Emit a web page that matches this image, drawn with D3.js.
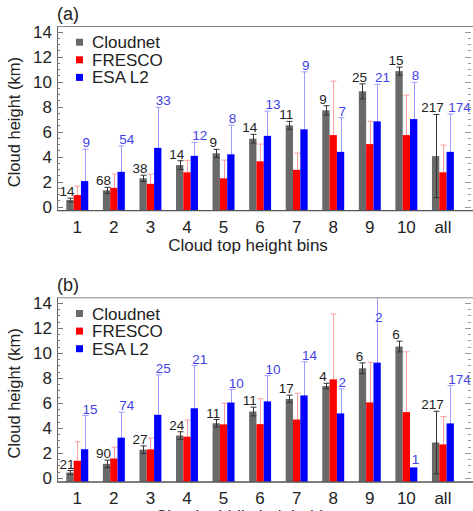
<!DOCTYPE html>
<html>
<head>
<meta charset="utf-8">
<script src="https://cdn.jsdelivr.net/npm/d3@7"></script>
<style>
  body { margin: 0; background: #fff; }
  svg { display: block; font-family: "Liberation Sans", Arial, sans-serif; }
</style>
</head>
<body>
<div id="chart"></div>
<script>
// categories (bins)
var categories = ["1", "2", "3", "4", "5", "6", "7", "8", "9", "10", "all"];
var seriesNames = ["Cloudnet", "FRESCO", "ESA L2"];
var yTicks = [0, 2, 4, 6, 8, 10, 12, 14];

// panel (a) cloud top height bins
var cloudnetA = [0.52, 1.30, 2.26, 3.32, 4.26, 5.43, 6.50, 7.70, 9.22, 10.84, 4.04];
var cloudnetErrA = [0.15, 0.24, 0.25, 0.35, 0.32, 0.35, 0.32, 0.37, 0.60, 0.32, 3.33];
var frescoA = [0.92, 1.50, 1.82, 2.74, 2.26, 3.62, 2.94, 5.72, 5.00, 5.72, 2.74];
var frescoErrA = [0.72, 1.10, 0.78, 0.96, 1.46, 1.38, 1.34, 4.32, 1.82, 3.20, 2.18];
var esaA = [2.04, 2.78, 4.70, 4.06, 4.18, 5.66, 6.18, 4.38, 6.82, 7.00, 4.38];
var esaErrA = [2.55, 2.08, 3.24, 1.07, 2.34, 1.98, 4.60, 2.74, 2.96, 2.94, 3.02];
var countCloudnetA = [14, 68, 38, 14, 9, 14, 11, 9, 25, 15, 217];
var countEsaA = [9, 54, 33, 12, 8, 13, 9, 7, 21, 8, 174];

// panel (b) cloud middle height bins
var cloudnetB = [0.43, 1.12, 2.26, 3.39, 4.37, 5.31, 6.32, 7.35, 8.77, 10.51, 2.83];
var cloudnetErrB = [0.16, 0.30, 0.30, 0.30, 0.30, 0.35, 0.30, 0.22, 0.43, 0.43, 2.50];
var frescoB = [1.37, 1.55, 2.28, 3.30, 4.28, 4.30, 4.67, 7.88, 6.04, 5.26, 2.68];
var frescoErrB = [1.52, 0.90, 0.90, 1.33, 1.70, 2.03, 2.10, 5.23, 3.20, 4.83, 2.22];
var esaB = [2.29, 3.22, 5.05, 5.57, 6.03, 6.12, 6.60, 5.16, 9.22, 0.84, 4.36];
var esaErrB = [2.70, 2.03, 3.20, 3.42, 1.04, 2.06, 2.69, 1.96, 6.00, 0, 3.03];
var countCloudnetB = [21, 90, 27, 24, 11, 11, 17, 4, 6, 6, 217];
var countEsaB = [15, 74, 25, 21, 10, 10, 14, 2, 2, 1, 174];

var w = 473;
var h = 511;
var colors = ["#696969", "#ff0000", "#0000ff"];
var errColors = ["#333333", "#ff9c9c", "#9c9cff"];
var blueText = "#4141e6";

var svg = d3.select("#chart")
  .append("svg")
  .attr("width", w)
  .attr("height", h);

svg.append("rect").attr("width", w).attr("height", h).attr("fill", "#fff");

// same x scale for both panels: bin index -> pixel
var x = d3.scaleLinear().domain([0.445, 11.85]).range([57, 474]);
var barW = x(0.2) - x(0);
var offsets = [-0.2, 0, 0.2];

function drawPanel(top, id, letter, xTitle, vals, errs, countGray, countBlue) {
  var bottom = top + 184.7;
  var y = d3.scaleLinear().domain([-0.33, 14.45]).range([bottom, top]);
  var g = svg.append("g");

  svg.append("clipPath").attr("id", id)
    .append("rect")
    .attr("x", x.range()[0]).attr("y", top)
    .attr("width", x.range()[1] - x.range()[0]).attr("height", bottom - top);

  var plot = g.append("g").attr("clip-path", "url(#" + id + ")");

  // red / blue error bars first (bars cover lower half)
  [1, 2].forEach(function(s) {
    var eg = plot.append("g").attr("stroke", errColors[s]).attr("stroke-width", 1);
    vals[s].forEach(function(v, i) {
      var e = errs[s][i];
      if (!e) return;
      var cx = Math.round(x(i + 1 + offsets[s])) + 0.5;
      eg.append("line").attr("x1", cx).attr("x2", cx).attr("y1", y(v - e)).attr("y2", y(v + e));
      eg.append("line").attr("x1", cx - 3).attr("x2", cx + 3).attr("y1", y(v + e)).attr("y2", y(v + e));
    });
  });

  // bars
  for (var s = 0; s < 3; s++) {
    plot.append("g").selectAll("rect")
      .data(vals[s])
      .enter()
      .append("rect")
      .attr("x", function(d, i) { return x(i + 1 + offsets[s]) - barW / 2; })
      .attr("y", function(d) { return y(d); })
      .attr("width", barW)
      .attr("height", function(d) { return y.range()[0] - y(d); })
      .attr("fill", colors[s]);
  }

  // cloudnet error bars drawn over the grey bars
  var eg0 = plot.append("g").attr("stroke", errColors[0]).attr("stroke-width", 1);
  vals[0].forEach(function(v, i) {
    var e = errs[0][i];
    var cx = Math.round(x(i + 1 + offsets[0])) + 0.5;
    eg0.append("line").attr("x1", cx).attr("x2", cx).attr("y1", y(v - e)).attr("y2", y(v + e));
    eg0.append("line").attr("x1", cx - 3).attr("x2", cx + 3).attr("y1", y(v + e)).attr("y2", y(v + e));
    eg0.append("line").attr("x1", cx - 3).attr("x2", cx + 3).attr("y1", y(v - e)).attr("y2", y(v - e));
  });

  // counts
  g.append("g").selectAll("text")
    .data(countGray)
    .enter()
    .append("text")
    .text(function(d) { return d; })
    .attr("x", function(d, i) { return x(i + 1 + offsets[0]) - 3; })
    .attr("y", function(d, i) { return y(vals[0][i] + errs[0][i]) - 2; })
    .attr("text-anchor", "middle")
    .attr("font-size", "13.5px")
    .attr("fill", "#222");

  g.append("g").selectAll("text")
    .data(countBlue)
    .enter()
    .append("text")
    .text(function(d) { return d; })
    .attr("x", function(d, i) { return x(i + 1 + offsets[2]) - 2; })
    .attr("y", function(d, i) {
      var t = Math.min(vals[2][i] + errs[2][i], 12.3);
      return y(t) - (errs[2][i] ? 2 : 3);
    })
    .attr("text-anchor", "start")
    .attr("font-size", "13.5px")
    .attr("fill", blueText);

  // frame
  var x0 = x.range()[0], x1 = x.range()[1];
  g.append("line").attr("x1", x0).attr("x2", x1).attr("y1", top + 0.5).attr("y2", top + 0.5)
    .attr("stroke", "#8a8a8a");
  g.append("line").attr("x1", x0).attr("x2", x1).attr("y1", bottom).attr("y2", bottom)
    .attr("stroke", "#555").attr("stroke-width", 1.3);
  g.append("line").attr("x1", x0 + 0.5).attr("x2", x0 + 0.5).attr("y1", top).attr("y2", bottom)
    .attr("stroke", "#666");

  // y ticks: left and right, pointing inwards
  var minor = d3.range(0, 14.01, 0.5);
  minor.forEach(function(t) {
    var len = (t % 2 === 0) ? 6 : 3;
    g.append("line").attr("x1", x0).attr("x2", x0 + len)
      .attr("y1", Math.round(y(t)) + 0.5).attr("y2", Math.round(y(t)) + 0.5)
      .attr("stroke", "#777");
    g.append("line").attr("x1", x1 - 3 - len).attr("x2", x1 - 3)
      .attr("y1", Math.round(y(t)) + 0.5).attr("y2", Math.round(y(t)) + 0.5)
      .attr("stroke", "#999");
  });

  g.append("g").selectAll("text")
    .data(yTicks)
    .enter()
    .append("text")
    .text(function(d) { return d; })
    .attr("x", 52)
    .attr("y", function(d) { return y(d) + 6; })
    .attr("text-anchor", "end")
    .attr("font-size", "17px")
    .attr("fill", "#222");

  // x tick labels
  g.append("g").selectAll("text")
    .data(categories)
    .enter()
    .append("text")
    .text(function(d) { return d; })
    .attr("x", function(d, i) { return x(i + 1); })
    .attr("y", bottom + 22)
    .attr("text-anchor", "middle")
    .attr("font-size", "17px")
    .attr("fill", "#222");

  // axis titles
  g.append("text")
    .text("Cloud height (km)")
    .attr("transform", "translate(20," + (y(7) + 3) + ") rotate(-90)")
    .attr("text-anchor", "middle")
    .attr("font-size", "16.5px")
    .attr("fill", "#222");

  g.append("text")
    .text(xTitle)
    .attr("x", 248)
    .attr("y", bottom + 40)
    .attr("text-anchor", "middle")
    .attr("font-size", "17px")
    .attr("fill", "#222");

  g.append("text")
    .text(letter)
    .attr("x", 57)
    .attr("y", top - 6)
    .attr("font-size", "18px")
    .attr("fill", "#222");

  // legend
  var leg = g.append("g").selectAll("g")
    .data(seriesNames)
    .enter()
    .append("g")
    .attr("transform", function(d, i) { return "translate(76," + (top + 16.2 + i * 17.6) + ")"; });
  leg.append("rect")
    .attr("x", 0).attr("y", -3.5).attr("width", 7).attr("height", 7)
    .attr("fill", function(d, i) { return colors[i]; });
  leg.append("text")
    .text(function(d) { return d; })
    .attr("x", 16)
    .attr("y", 6)
    .attr("font-size", "17px")
    .attr("fill", "#222");
}

drawPanel(26, "clipA", "(a)", "Cloud top height bins",
  [cloudnetA, frescoA, esaA], [cloudnetErrA, frescoErrA, esaErrA], countCloudnetA, countEsaA);
drawPanel(297.3, "clipB", "(b)", "Cloud middle height bins",
  [cloudnetB, frescoB, esaB], [cloudnetErrB, frescoErrB, esaErrB], countCloudnetB, countEsaB);
</script>
</body>
</html>
